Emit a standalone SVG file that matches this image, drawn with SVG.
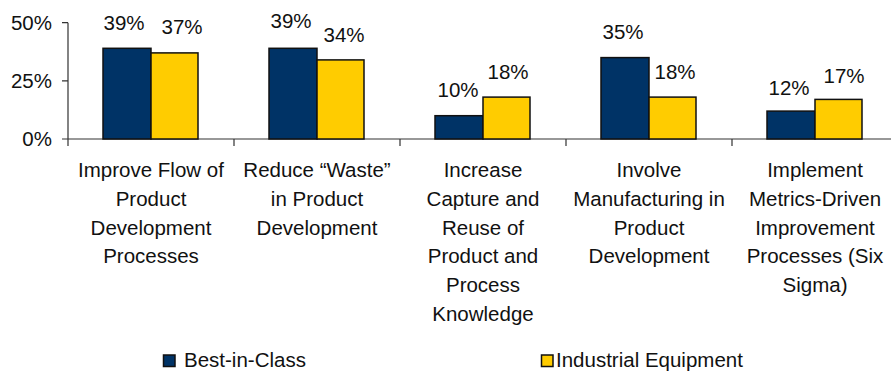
<svg xmlns="http://www.w3.org/2000/svg" width="891" height="371" viewBox="0 0 891 371">
<style>
text{font-family:"Liberation Sans",Arial,sans-serif;font-size:20.5px;fill:#111}
.c{text-anchor:middle}
.r{text-anchor:end}
.b{fill:#003366;stroke:#111;stroke-width:1.5}
.y{fill:#FFCC00;stroke:#111;stroke-width:1.5}
.ax{stroke:#333;stroke-width:1.2;fill:none}
</style>
<rect width="891" height="371" fill="#fff"/>
<g id="axes">
<path class="ax" d="M68,22.7V139M62,22.7H68M62,80.8H68M62,139H891M68,139V146M234,139V146M400,139V146M566,139V146M732,139V146"/>
<text class="r" x="52" y="29.5">50%</text>
<text class="r" x="52" y="87.5">25%</text>
<text class="r" x="52" y="145.8">0%</text>
</g>
<g id="cat1">
<rect class="b" x="103" y="48.3" width="48" height="90.7"/>
<rect class="y" x="151" y="52.9" width="47" height="86.1"/>
<text class="c" x="124" y="30">39%</text>
<text class="c" x="182" y="34">37%</text>
<text class="c" x="151" y="177">Improve Flow of</text>
<text class="c" x="151" y="205.8">Product</text>
<text class="c" x="151" y="234.6">Development</text>
<text class="c" x="151" y="263.4">Processes</text>
</g>
<g id="cat2">
<rect class="b" x="269" y="48.3" width="48" height="90.7"/>
<rect class="y" x="317" y="59.9" width="47" height="79.1"/>
<text class="c" x="291" y="28">39%</text>
<text class="c" x="344" y="42">34%</text>
<text class="c" x="317" y="177">Reduce “Waste”</text>
<text class="c" x="317" y="205.8">in Product</text>
<text class="c" x="317" y="234.6">Development</text>
</g>
<g id="cat3">
<rect class="b" x="435" y="115.7" width="48" height="23.3"/>
<rect class="y" x="483" y="97.1" width="47" height="41.9"/>
<text class="c" x="458" y="97">10%</text>
<text class="c" x="508" y="79">18%</text>
<text class="c" x="483" y="177">Increase</text>
<text class="c" x="483" y="205.8">Capture and</text>
<text class="c" x="483" y="234.6">Reuse of</text>
<text class="c" x="483" y="263.4">Product and</text>
<text class="c" x="483" y="292.2">Process</text>
<text class="c" x="483" y="321">Knowledge</text>
</g>
<g id="cat4">
<rect class="b" x="601" y="57.6" width="48" height="81.4"/>
<rect class="y" x="649" y="97.1" width="47" height="41.9"/>
<text class="c" x="623" y="39">35%</text>
<text class="c" x="675" y="79">18%</text>
<text class="c" x="649" y="177">Involve</text>
<text class="c" x="649" y="205.8">Manufacturing in</text>
<text class="c" x="649" y="234.6">Product</text>
<text class="c" x="649" y="263.4">Development</text>
</g>
<g id="cat5">
<rect class="b" x="767" y="111.1" width="48" height="27.9"/>
<rect class="y" x="815" y="99.4" width="47" height="39.6"/>
<text class="c" x="789" y="95">12%</text>
<text class="c" x="844" y="83">17%</text>
<text class="c" x="815" y="177">Implement</text>
<text class="c" x="815" y="205.8">Metrics-Driven</text>
<text class="c" x="815" y="234.6">Improvement</text>
<text class="c" x="815" y="263.4">Processes (Six</text>
<text class="c" x="815" y="292.2">Sigma)</text>
</g>
<g id="legend">
<rect class="b" x="163.5" y="355" width="11.5" height="11.5"/>
<text x="184" y="366.5">Best-in-Class</text>
<rect class="y" x="541.5" y="355" width="11.5" height="11.5"/>
<text x="556" y="366.5">Industrial Equipment</text>
</g>
</svg>
